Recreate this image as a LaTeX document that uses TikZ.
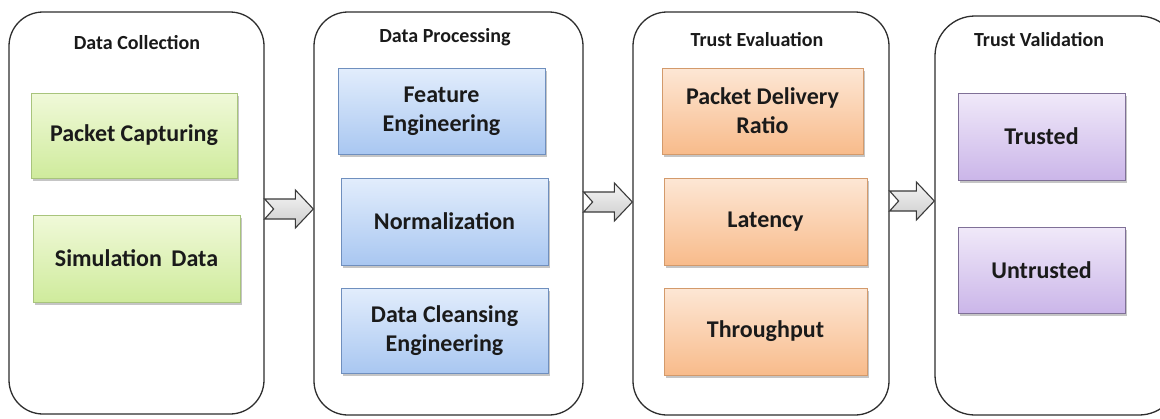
\documentclass[tikz,border=0pt]{standalone}
\usepackage{fontspec}
\setmainfont{Carlito}
\usetikzlibrary{shadows,calc}
\definecolor{gtop}{HTML}{F0F9D9}
\definecolor{gbot}{HTML}{CFEB9C}
\definecolor{gbrd}{HTML}{A8C47C}
\definecolor{btop}{HTML}{E2EDFC}
\definecolor{bbot}{HTML}{A9C7F1}
\definecolor{bbrd}{HTML}{6F8FBE}
\definecolor{otop}{HTML}{FDE7D5}
\definecolor{obot}{HTML}{F8BB8B}
\definecolor{obrd}{HTML}{D39A6B}
\definecolor{ptop}{HTML}{F0E9F9}
\definecolor{pbot}{HTML}{CBB6E9}
\definecolor{pbrd}{HTML}{7F7097}
\definecolor{txt}{HTML}{1A1A1A}
\definecolor{frame}{HTML}{2E2E2E}
\definecolor{arr}{HTML}{3A3A3A}
\tikzset{
  container/.style={draw=frame,line width=1.3pt,rounded corners=34pt,fill=white,inner sep=0pt},
  ctitle/.style={font=\fontsize{20}{22}\selectfont\bfseries,text=txt,inner sep=0pt},
  item/.style={draw=#1,line width=0.9pt,inner sep=0pt,align=center,
    font=\fontsize{24}{29}\selectfont\bfseries,text=txt,
    drop shadow={shadow xshift=1.5pt,shadow yshift=-2.5pt,fill=black!45,opacity=0.5}},
  gitem/.style={item=gbrd,top color=gtop,bottom color=gbot},
  bitem/.style={item=bbrd,top color=btop,bottom color=bbot},
  oitem/.style={item=obrd,top color=otop,bottom color=obot},
  pitem/.style={item=pbrd,top color=ptop,bottom color=pbot},
  blockarrow/.style={draw=arr,line width=1.1pt,line join=miter,top color=gray!8,bottom color=gray!40}
}
\newcommand{\flowarrow}[2]{%
  \draw[blockarrow] ($(#1)+(0,-10)$) -- ($(#2)+(-18,-10)$) -- ($(#2)+(-18,-19)$) -- (#2)
    -- ($(#2)+(-18,19)$) -- ($(#2)+(-18,10)$) -- ($(#1)+(0,10)$) -- ($(#1)+(9,0)$) -- cycle;}
\begin{document}
\begin{tikzpicture}[x=1pt,y=-1pt]
\useasboundingbox (0,0) rectangle (1160,418);
\fill[white] (0,0) rectangle (1160,418);
% containers
\node[container,minimum width=255pt,minimum height=402pt] (c1) at (136.5,213) {};
\node[container,minimum width=269pt,minimum height=403pt] (c2) at (448.5,213.5) {};
\node[container,minimum width=256pt,minimum height=403pt] (c3) at (761,213.5) {};
\node[container,minimum width=244pt,minimum height=399pt,rounded corners=40pt] (c4) at (1057,215.5) {};
% titles
\node[ctitle] (t1) at (137,43) {Data Collection};
\node[ctitle] (t2) at (445,37) {Data Processing};
\node[ctitle] (t3) at (757,40) {Trust Evaluation};
\node[ctitle] (t4) at (1039,40) {Trust Validation};
% items
\node[gitem,minimum width=206pt,minimum height=85pt] (pc) at (134,135.5) {Packet Capturing};
\node[gitem,minimum width=207pt,minimum height=87pt] (sd) at (136.5,258.5) {Simulation\, Data};
\node[bitem,minimum width=207pt,minimum height=86pt] (fe) at (441.5,111) {Feature\\Engineering};
\node[bitem,minimum width=207pt,minimum height=87pt] (nz) at (444.5,221.5) {Normalization};
\node[bitem,minimum width=207pt,minimum height=85pt] (dc) at (444.5,330.5) {Data Cleansing\\Engineering};
\node[oitem,minimum width=201pt,minimum height=86pt] (pdr) at (762.5,111) {Packet Delivery\\Ratio};
\node[oitem,minimum width=203pt,minimum height=87pt] (lat) at (765.5,221.5) {Latency};
\node[oitem,minimum width=203pt,minimum height=87pt] (thr) at (765.5,331.5) {Throughput};
\node[pitem,minimum width=167pt,minimum height=87pt] (tr) at (1041.5,136.5) {Trusted};
\node[pitem,minimum width=167pt,minimum height=86pt] (ut) at (1041.5,270) {Untrusted};
% arrows
\coordinate (a1t) at (c1.east |- 0,209);
\coordinate (a1h) at (c2.west |- 0,209);
\coordinate (a2t) at (c2.east |- 0,202);
\coordinate (a2h) at (c3.west |- 0,202);
\coordinate (a3t) at (c3.east |- 0,201);
\coordinate (a3h) at (c4.west |- 0,201);
\flowarrow{a1t}{a1h}
\flowarrow{a2t}{a2h}
\flowarrow{a3t}{a3h}
\end{tikzpicture}
\end{document}
